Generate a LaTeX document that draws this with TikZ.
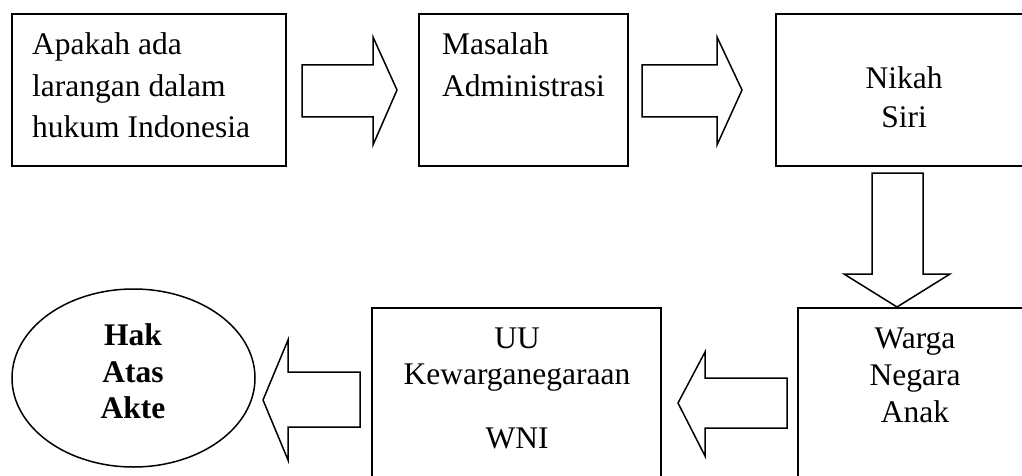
\documentclass[tikz,border=0pt]{standalone}
\usepackage{fontspec}
\setmainfont{Liberation Serif}
\usetikzlibrary{shapes.geometric}
\begin{document}
\begin{tikzpicture}[x=1pt,y=-1pt,
  boxstyle/.style={draw,line width=1.8pt,rectangle,inner sep=0pt,outer sep=0pt},
  blockarrow/.style={draw,line width=1.5pt,line join=miter,fill=white},
  txt/.style={inner sep=0pt,anchor=base,font=\fontsize{31.5}{38}\selectfont},
  txtl/.style={txt,anchor=base west},
  txtb/.style={txt,font=\fontsize{31.5}{38}\selectfont\bfseries}]
\useasboundingbox (0,0) rectangle (1022,476);
\clip (0,0) rectangle (1022,476);
% boxes
\node[boxstyle,minimum width=274pt,minimum height=152pt] (b1) at (149,90) {};
\node[boxstyle,minimum width=209pt,minimum height=152pt] (b2) at (523.5,90) {};
\node[boxstyle,minimum width=258pt,minimum height=152pt] (b3) at (905,90) {};
\node[boxstyle,minimum width=236pt,minimum height=192pt] (b4) at (916,404) {};
\node[boxstyle,minimum width=289pt,minimum height=192pt] (b5) at (516.5,404) {};
\node[draw,line width=1.5pt,ellipse,minimum width=243pt,minimum height=178pt,inner sep=0pt] (e) at (133.5,378) {};
% block arrows
\draw[blockarrow] (302,65) -- (373,65) -- (373,37) -- (397,90) -- (373,145) -- (373,117) -- (302,117) -- cycle;
\draw[blockarrow] (642,65) -- (717,65) -- (717,37) -- (742,90) -- (717,145) -- (717,117) -- (642,117) -- cycle;
\draw[blockarrow] (872,173) -- (923,173) -- (923,274) -- (950,274) -- (897,307) -- (844,274) -- (872,274) -- cycle;
\draw[blockarrow] (787,378) -- (705,378) -- (705,352) -- (678,403) -- (705,456) -- (705,428) -- (787,428) -- cycle;
\draw[blockarrow] (360,372) -- (288,372) -- (288,340) -- (263,400) -- (288,460) -- (288,427) -- (360,427) -- cycle;
% texts
\node[txtl] (t1a) at (32,55) {Apakah ada};
\node[txtl] (t1b) at (32,97) {larangan dalam};
\node[txtl] (t1c) at (32,138) {hukum Indonesia};
\node[txtl] (t2a) at (442,55) {Masalah};
\node[txtl] (t2b) at (442,97) {Administrasi};
\node[txt] (t3a) at (904,89) {Nikah};
\node[txt] (t3b) at (904,128) {Siri};
\node[txt] (t4a) at (915,348) {Warga};
\node[txt] (t4b) at (915,385) {Negara};
\node[txt] (t4c) at (915,422) {Anak};
\node[txt] (t5a) at (517,348) {UU};
\node[txt] (t5b) at (517,384) {Kewarganegaraan};
\node[txt] (t5c) at (517,448) {WNI};
\node[txtb] (t6a) at (133,345) {Hak};
\node[txtb] (t6b) at (133,382) {Atas};
\node[txtb] (t6c) at (133,418) {Akte};
\end{tikzpicture}
\end{document}
